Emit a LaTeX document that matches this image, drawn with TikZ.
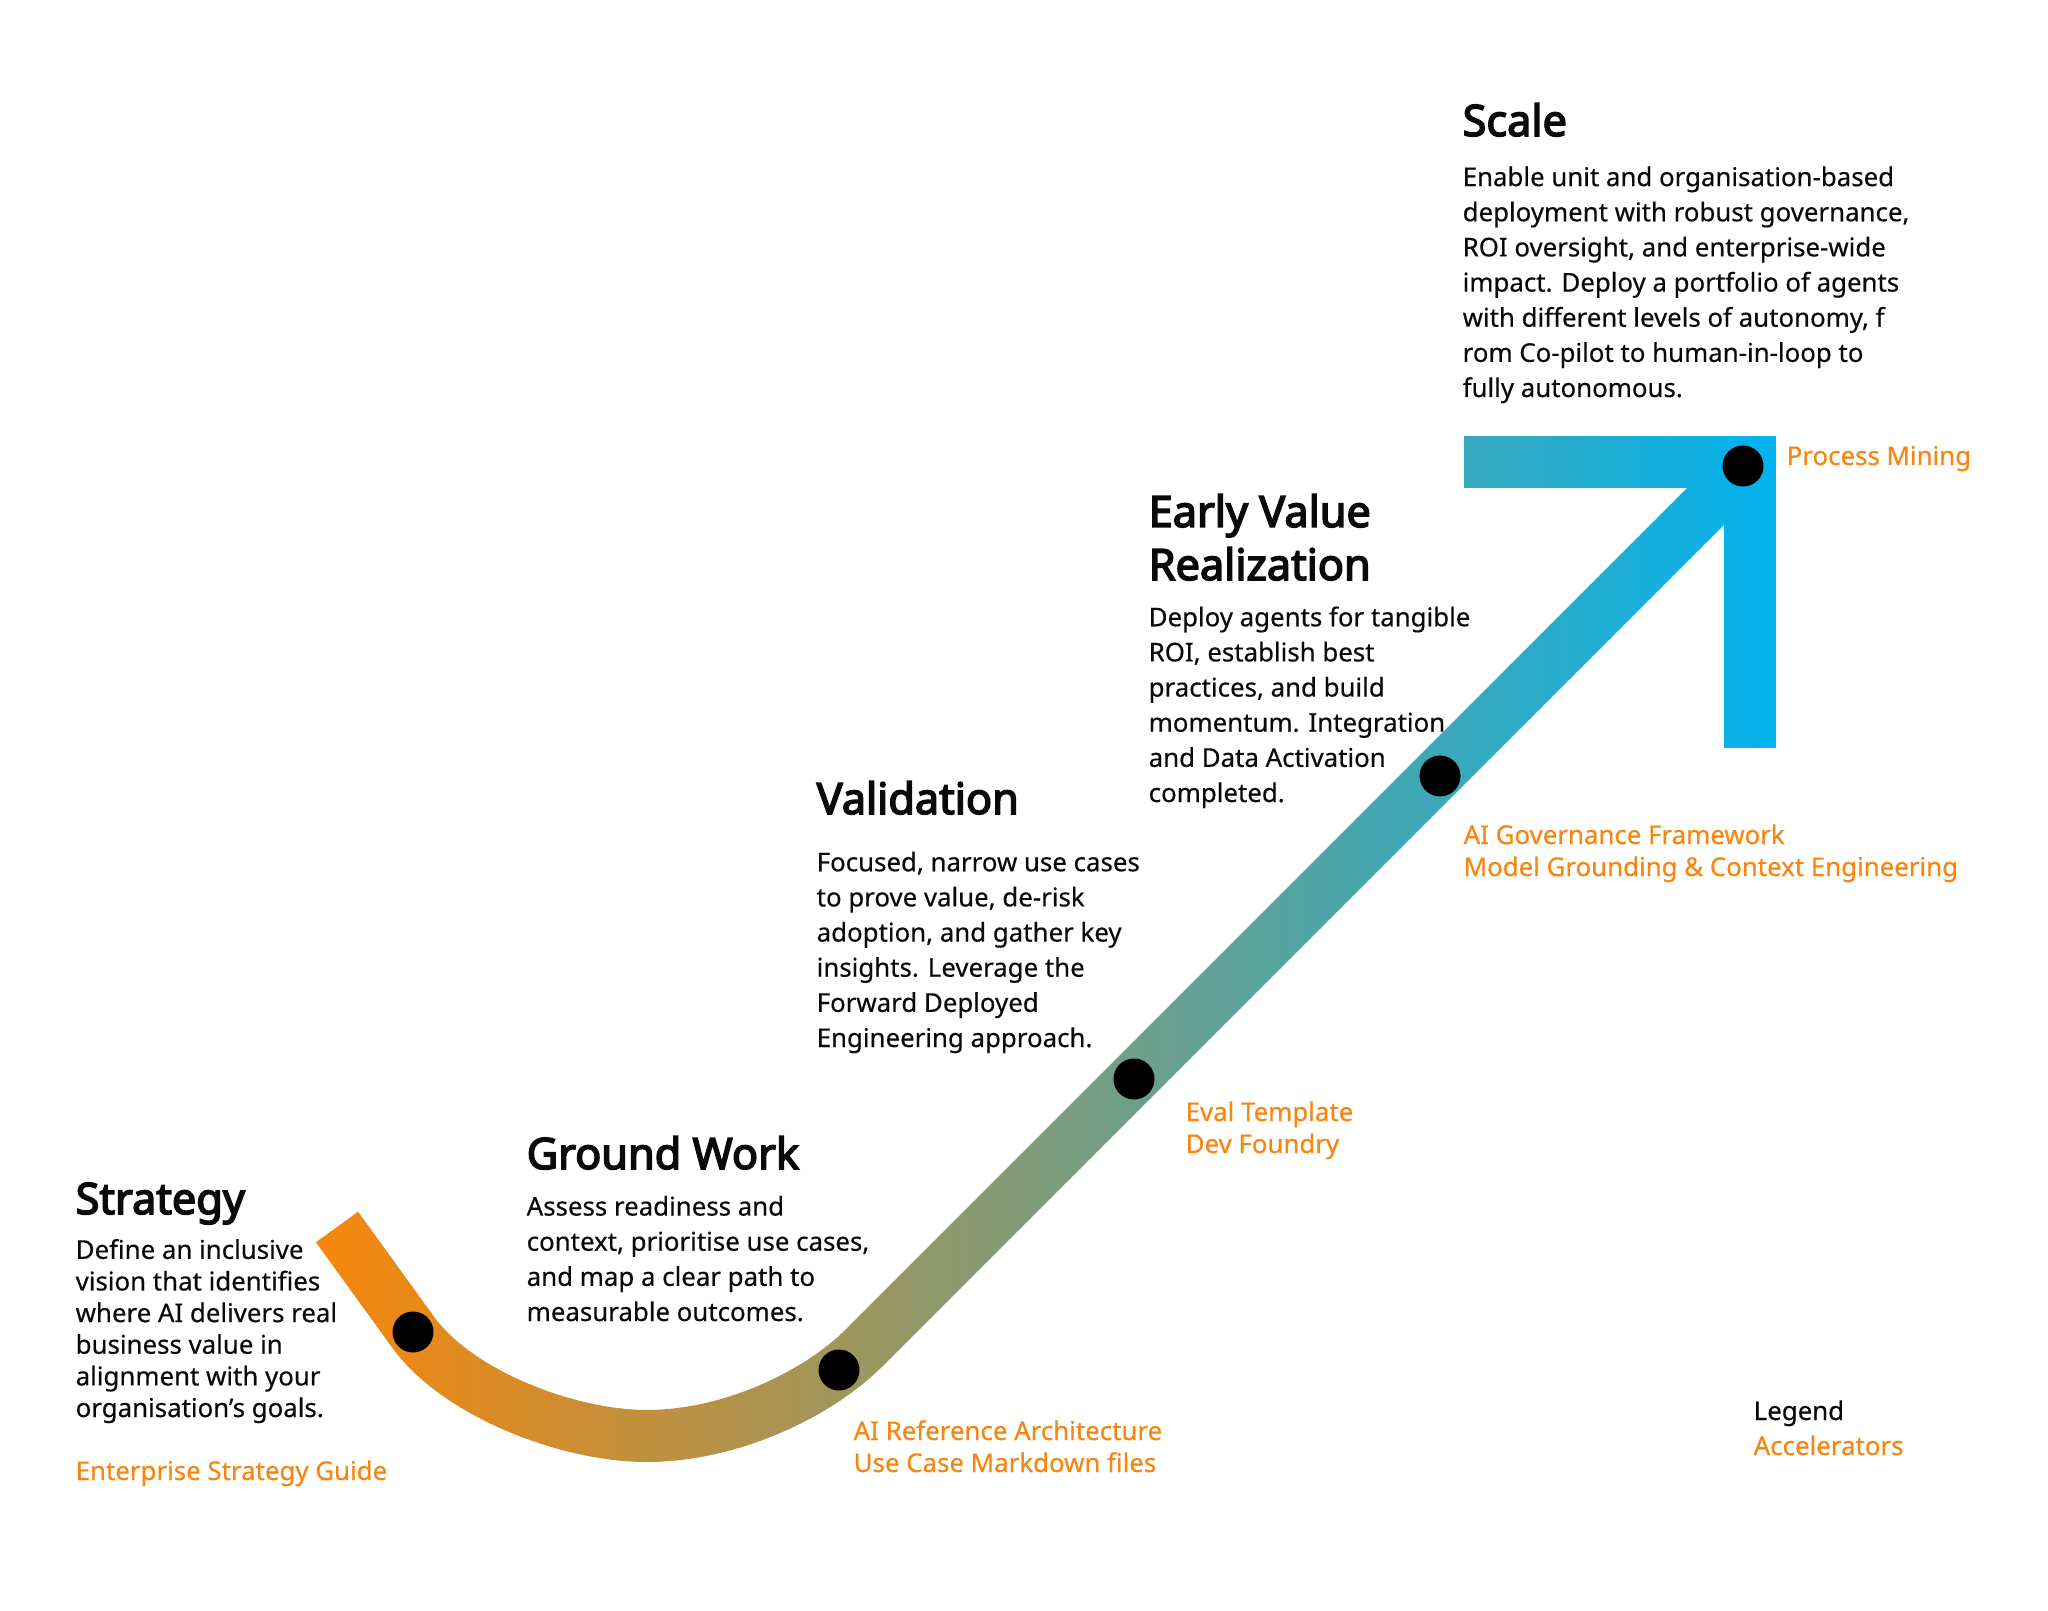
\documentclass[tikz,border=0pt]{standalone}
\usepackage{fontspec}
\setmainfont{Noto Sans}[FakeBold=0.4]
\newfontfamily\titlefont{Noto Sans}[FakeBold=3.6]
\usepackage{xcolor}
\definecolor{bandorange}{HTML}{F8860A}
\definecolor{bandcyan}{HTML}{02B2EE}
\definecolor{accent}{HTML}{F7850F}
\definecolor{ink}{HTML}{0A0A0A}

\begin{document}
\begin{tikzpicture}[
  every node/.style={inner sep=0pt, text=ink},
  title/.style={anchor=base west, align=left,
                font=\fontsize{12.3}{15.1}\titlefont},
  body/.style={anchor=base west, align=left,
               font=\fontsize{7.35}{10}\selectfont},
  accel/.style={anchor=base west, align=left, text=accent,
                font=\fontsize{7.35}{9.1}\selectfont},
  dot/.style={circle, fill=black, minimum size=0.41cm},
  band/.style={line width=0.52cm}
]
\useasboundingbox (0,0) rectangle (20.48,-16.11);
% Band points
\coordinate (s)  at (3.37,-12.27);
\coordinate (k1) at (4.13,-13.32);
\coordinate (c1) at (4.57,-13.93);
\coordinate (c2) at (5.67,-14.36);
\coordinate (b)  at (6.47,-14.36);
\coordinate (c3) at (7.27,-14.36);
\coordinate (c4) at (8.15,-13.97);
\coordinate (j)  at (8.65,-13.47);
\coordinate (e)  at (17.50,-4.62);
% Band, coloured strip by strip
\foreach \i in {0,...,146}{
  \pgfmathsetmacro\xa{3.10+0.1*\i}
  \pgfmathsetmacro\mix{min(100,max(0,(\xa+0.05-3.16)/14.6*100))}
  \begin{scope}
    \clip (\xa,0) rectangle (\xa+0.11,-16.11);
    \draw[band, draw=bandcyan!\mix!bandorange]
      (s) -- (k1) .. controls (c1) and (c2) .. (b)
          .. controls (c3) and (c4) .. (j) -- (e);
    \fill[bandcyan!\mix!bandorange] (14.64,-4.36) rectangle (17.76,-4.88);
    \fill[bandcyan!\mix!bandorange] (17.24,-4.36) rectangle (17.76,-7.48);
  \end{scope}
}
% Milestones
\node[dot] (dot1) at (4.13,-13.32) {};
\node[dot] (dot2) at (8.39,-13.70) {};
\node[dot] (dot3) at (11.34,-10.79) {};
\node[dot] (dot4) at (14.40,-7.76) {};
\node[dot] (dot5) at (17.43,-4.66) {};
% Strategy
\node[title] (strategy) at (0.75,-12.14) {Strategy};
\node[body, font=\fontsize{7.35}{9}\selectfont] (strategytxt) at (0.75,-14.17)
      {Define an inclusive\\vision that identifies\\where AI delivers real\\
       business value in\\alignment with your\\organisation’s goals.};
\node[accel] (strategyacc) at (0.75,-14.80) {Enterprise Strategy Guide};
% Ground Work
\node[title] (ground) at (5.26,-11.69) {Ground Work};
\node[body] (groundtxt) at (5.26,-13.21)
      {Assess readiness and\\context, prioritise use cases,\\
       and map a clear path to\\measurable outcomes.};
\node[accel] (groundacc) at (8.53,-14.72)
      {AI Reference Architecture\\Use Case Markdown files};
% Validation
\node[title] (valid) at (8.16,-8.14) {Validation};
\node[body] (validtxt) at (8.16,-10.47)
      {Focused, narrow use cases\\to prove value, de-risk\\
       adoption, and gather key\\insights. Leverage the\\
       Forward Deployed\\Engineering approach.};
\node[accel] (validacc) at (11.85,-11.53) {Eval Template\\Dev Foundry};
% Early Value Realization
\node[title] (early) at (11.48,-5.80) {Early Value\\Realization};
\node[body] (earlytxt) at (11.48,-8.02)
      {Deploy agents for tangible\\ROI, establish best\\
       practices, and build\\momentum. Integration\\
       and Data Activation\\completed.};
\node[accel] (earlyacc) at (14.63,-8.76)
      {AI Governance Framework\\Model Grounding \& Context Engineering};
% Scale
\node[title] (scale) at (14.62,-1.36) {Scale};
\node[body] (scaletxt) at (14.62,-3.97)
      {Enable unit and organisation-based\\deployment with robust governance,\\
       ROI oversight, and enterprise-wide\\impact. Deploy a portfolio of agents\\
       with different levels of autonomy, f\\rom Co-pilot to human-in-loop to\\
       fully autonomous.};
\node[accel] (scaleacc) at (17.86,-4.65) {Process Mining};
% Legend
\node[body] (legend) at (17.53,-14.20) {Legend};
\node[accel] (legendacc) at (17.53,-14.55) {Accelerators};
\end{tikzpicture}
\end{document}
